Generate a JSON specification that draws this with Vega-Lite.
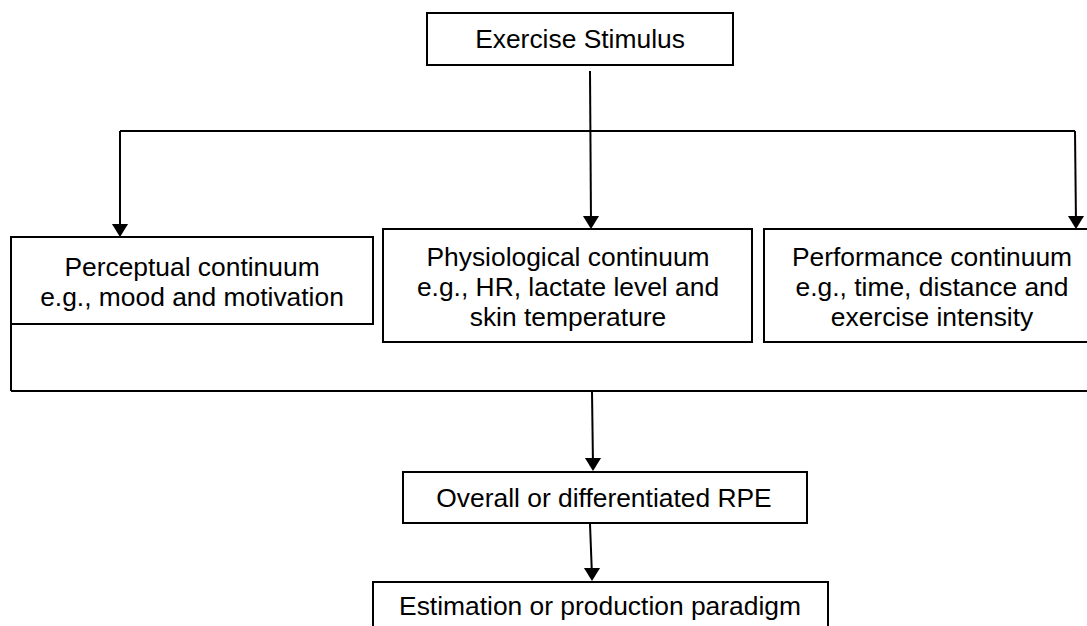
{
  "$schema": "https://vega.github.io/schema/vega-lite/v6.json",
  "width": 1087,
  "height": 626,
  "padding": 0,
  "autosize": {"type": "none"},
  "background": "white",
  "config": {"view": {"stroke": null}},
  "datasets": {
    "boxes": [
      {"name": "Exercise Stimulus", "x": 427, "x2": 733, "y": 13, "y2": 65},
      {"name": "Perceptual", "x": 11, "x2": 373, "y": 237, "y2": 324},
      {"name": "Physiological", "x": 383, "x2": 752, "y": 229, "y2": 342},
      {"name": "Performance", "x": 764, "x2": 1100, "y": 229, "y2": 342},
      {"name": "RPE", "x": 403, "x2": 807, "y": 472, "y2": 523},
      {"name": "Paradigm", "x": 373, "x2": 828, "y": 582, "y2": 650}
    ],
    "lines": [
      {"id": 1, "x": 590, "x2": 591, "y": 71, "y2": 224},
      {"id": 2, "x": 120, "x2": 1075, "y": 131, "y2": 131},
      {"id": 3, "x": 120, "x2": 120, "y": 131, "y2": 232},
      {"id": 4, "x": 1075, "x2": 1076, "y": 131, "y2": 224},
      {"id": 5, "x": 11, "x2": 11, "y": 324, "y2": 391},
      {"id": 6, "x": 11, "x2": 1100, "y": 391, "y2": 391},
      {"id": 7, "x": 592, "x2": 593, "y": 391, "y2": 466},
      {"id": 8, "x": 590, "x2": 592, "y": 524, "y2": 576}
    ],
    "arrows": [
      {"to": "Perceptual", "x": 120, "y": 237},
      {"to": "Physiological", "x": 591, "y": 229},
      {"to": "Performance", "x": 1076, "y": 229},
      {"to": "RPE", "x": 593, "y": 471},
      {"to": "Paradigm", "x": 592, "y": 581}
    ],
    "labels": [
      {"x": 580, "y": 40, "text": ["Exercise Stimulus"]},
      {"x": 192, "y": 268, "text": ["Perceptual continuum", "e.g., mood and motivation"]},
      {"x": 568, "y": 258, "text": ["Physiological continuum", "e.g., HR, lactate level and", "skin temperature"]},
      {"x": 932, "y": 258, "text": ["Performance continuum", "e.g., time, distance and", "exercise intensity"]},
      {"x": 604, "y": 499, "text": ["Overall or differentiated RPE"]},
      {"x": 600, "y": 607, "text": ["Estimation or production paradigm"]}
    ]
  },
  "layer": [
    {
      "data": {"name": "lines"},
      "mark": {"type": "rule", "color": "black", "strokeWidth": 2},
      "encoding": {
        "x": {"field": "x", "type": "quantitative", "scale": {"domain": [0, 1087], "nice": false, "zero": false}, "axis": null},
        "x2": {"field": "x2"},
        "y": {"field": "y", "type": "quantitative", "scale": {"domain": [0, 626], "nice": false, "zero": false, "reverse": true}, "axis": null},
        "y2": {"field": "y2"}
      }
    },
    {
      "data": {"name": "boxes"},
      "mark": {"type": "rect", "fill": "white", "stroke": "black", "strokeWidth": 2},
      "encoding": {
        "x": {"field": "x", "type": "quantitative"},
        "x2": {"field": "x2"},
        "y": {"field": "y", "type": "quantitative"},
        "y2": {"field": "y2"}
      }
    },
    {
      "data": {"name": "arrows"},
      "mark": {"type": "point", "shape": "M-1,-1.6L1,-1.6L0,0Z", "filled": true, "color": "black", "opacity": 1, "size": 260, "strokeWidth": 0},
      "encoding": {
        "x": {"field": "x", "type": "quantitative"},
        "y": {"field": "y", "type": "quantitative"}
      }
    },
    {
      "data": {"name": "labels"},
      "mark": {"type": "text", "font": "Liberation Sans", "fontSize": 26.4, "lineHeight": 30, "align": "center", "baseline": "middle", "color": "black"},
      "encoding": {
        "x": {"field": "x", "type": "quantitative"},
        "y": {"field": "y", "type": "quantitative"},
        "text": {"field": "text"}
      }
    }
  ]
}
